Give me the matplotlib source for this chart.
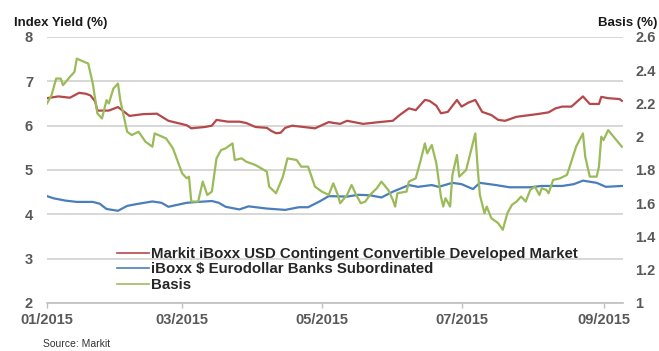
import matplotlib
matplotlib.use('Agg')
import matplotlib.pyplot as plt
import matplotlib.dates as mdates
import pandas as pd

plt.rcParams['font.family'] = ['Liberation Sans', 'DejaVu Sans']

# Markit iBoxx USD Contingent Convertible Developed Market (left axis, %)
coco_dates = ['2015-01-01', '2015-01-06', '2015-01-11', '2015-01-15', '2015-01-18', '2015-01-20',
              '2015-01-22', '2015-01-23', '2015-01-28', '2015-02-01', '2015-02-04', '2015-02-06',
              '2015-02-12', '2015-02-18', '2015-02-23', '2015-03-03', '2015-03-05', '2015-03-11',
              '2015-03-14', '2015-03-16', '2015-03-21', '2015-03-26', '2015-03-29', '2015-04-02',
              '2015-04-07', '2015-04-09', '2015-04-11', '2015-04-13', '2015-04-15', '2015-04-18',
              '2015-04-23', '2015-04-28', '2015-05-04', '2015-05-09', '2015-05-12', '2015-05-19',
              '2015-05-26', '2015-06-01', '2015-06-04', '2015-06-08', '2015-06-11', '2015-06-15',
              '2015-06-17', '2015-06-20', '2015-06-22', '2015-06-25', '2015-06-29', '2015-07-01',
              '2015-07-04', '2015-07-07', '2015-07-10', '2015-07-14', '2015-07-17', '2015-07-20',
              '2015-07-25', '2015-08-03', '2015-08-08', '2015-08-11', '2015-08-14', '2015-08-18',
              '2015-08-23', '2015-08-26', '2015-08-30', '2015-08-31', '2015-09-03', '2015-09-08',
              '2015-09-09']
coco_yield = [6.62, 6.66, 6.63, 6.74, 6.72, 6.68,
              6.55, 6.34, 6.34, 6.42, 6.30, 6.22,
              6.26, 6.27, 6.11, 6.01, 5.94, 5.97,
              6.00, 6.13, 6.09, 6.09, 6.06, 5.97,
              5.95, 5.88, 5.83, 5.84, 5.95, 6.00,
              5.97, 5.94, 6.08, 6.04, 6.11, 6.04,
              6.08, 6.11, 6.24, 6.39, 6.35, 6.58,
              6.56, 6.45, 6.28, 6.31, 6.58, 6.43,
              6.52, 6.58, 6.31, 6.24, 6.13, 6.11,
              6.20, 6.26, 6.30, 6.39, 6.43, 6.43,
              6.66, 6.49, 6.49, 6.65, 6.62, 6.60,
              6.56]

# iBoxx $ Eurodollar Banks Subordinated (left axis, %)
subs_dates = ['2015-01-01', '2015-01-04', '2015-01-09', '2015-01-14', '2015-01-21', '2015-01-24',
              '2015-01-27', '2015-02-01', '2015-02-05', '2015-02-09', '2015-02-16', '2015-02-20',
              '2015-02-23', '2015-03-03', '2015-03-08', '2015-03-14', '2015-03-17', '2015-03-20',
              '2015-03-26', '2015-03-30', '2015-04-07', '2015-04-15', '2015-04-21', '2015-04-25',
              '2015-04-30', '2015-05-04', '2015-05-12', '2015-05-17', '2015-05-22', '2015-05-27',
              '2015-06-01', '2015-06-08', '2015-06-12', '2015-06-18', '2015-06-21', '2015-06-27',
              '2015-07-01', '2015-07-06', '2015-07-09', '2015-07-16', '2015-07-22', '2015-07-31',
              '2015-08-05', '2015-08-14', '2015-08-19', '2015-08-23', '2015-08-29', '2015-09-02',
              '2015-09-09']
subs_yield = [4.41, 4.36, 4.31, 4.28, 4.28, 4.24,
              4.12, 4.08, 4.19, 4.23, 4.29, 4.26,
              4.17, 4.26, 4.28, 4.30, 4.26, 4.17,
              4.11, 4.18, 4.13, 4.10, 4.16, 4.16,
              4.29, 4.41, 4.40, 4.44, 4.43, 4.38,
              4.51, 4.66, 4.62, 4.66, 4.62, 4.71,
              4.68, 4.57, 4.71, 4.66, 4.61, 4.61,
              4.64, 4.64, 4.68, 4.76, 4.71, 4.62,
              4.64]

# Basis (right axis, %)
basis_dates = ['2015-01-01', '2015-01-03', '2015-01-05', '2015-01-07', '2015-01-08', '2015-01-11',
               '2015-01-13', '2015-01-14', '2015-01-19', '2015-01-21', '2015-01-23', '2015-01-25',
               '2015-01-27', '2015-01-28', '2015-01-30', '2015-02-01', '2015-02-02', '2015-02-05',
               '2015-02-07', '2015-02-10', '2015-02-13', '2015-02-16', '2015-02-17', '2015-02-22',
               '2015-02-25', '2015-03-01', '2015-03-03', '2015-03-04', '2015-03-05', '2015-03-08',
               '2015-03-10', '2015-03-12', '2015-03-14', '2015-03-16', '2015-03-18', '2015-03-20',
               '2015-03-23', '2015-03-24', '2015-03-27', '2015-03-29', '2015-04-02', '2015-04-07',
               '2015-04-08', '2015-04-11', '2015-04-14', '2015-04-16', '2015-04-20', '2015-04-22',
               '2015-04-25', '2015-04-28', '2015-05-01', '2015-05-04', '2015-05-06', '2015-05-08',
               '2015-05-09', '2015-05-12', '2015-05-14', '2015-05-16', '2015-05-18', '2015-05-20',
               '2015-05-22', '2015-05-25', '2015-05-27', '2015-05-30', '2015-06-01', '2015-06-02',
               '2015-06-03', '2015-06-07', '2015-06-08', '2015-06-11', '2015-06-13', '2015-06-15',
               '2015-06-16', '2015-06-18', '2015-06-20', '2015-06-21', '2015-06-22', '2015-06-23',
               '2015-06-24', '2015-06-26', '2015-06-27', '2015-06-29', '2015-06-30', '2015-07-03',
               '2015-07-07', '2015-07-08', '2015-07-09', '2015-07-11', '2015-07-12', '2015-07-14',
               '2015-07-17', '2015-07-19', '2015-07-21', '2015-07-23', '2015-07-25', '2015-07-27',
               '2015-07-29', '2015-07-31', '2015-08-02', '2015-08-04', '2015-08-05', '2015-08-07',
               '2015-08-08', '2015-08-10', '2015-08-13', '2015-08-16', '2015-08-17', '2015-08-20',
               '2015-08-23', '2015-08-24', '2015-08-26', '2015-08-29', '2015-08-30', '2015-08-31',
               '2015-09-01', '2015-09-03', '2015-09-06', '2015-09-09']
basis = [2.20, 2.25, 2.35, 2.35, 2.31, 2.36,
         2.39, 2.47, 2.44, 2.32, 2.14, 2.11,
         2.22, 2.20, 2.29, 2.32, 2.22, 2.03,
         2.01, 2.03, 1.97, 1.94, 2.02, 1.99,
         1.93, 1.78, 1.75, 1.76, 1.61, 1.61,
         1.73, 1.65, 1.67, 1.87, 1.92, 1.93,
         1.96, 1.86, 1.87, 1.85, 1.83, 1.79,
         1.70, 1.66, 1.76, 1.87, 1.86, 1.82,
         1.82, 1.70, 1.67, 1.65, 1.72, 1.65,
         1.60, 1.65, 1.71, 1.65, 1.60, 1.61,
         1.65, 1.69, 1.73, 1.68, 1.62, 1.58,
         1.66, 1.67, 1.73, 1.75, 1.85, 1.96,
         1.90, 1.95, 1.84, 1.74, 1.64, 1.58,
         1.63, 1.58, 1.77, 1.89, 1.76, 1.80,
         2.02, 1.82, 1.65, 1.54, 1.58, 1.51,
         1.48, 1.44, 1.54, 1.59, 1.61, 1.64,
         1.61, 1.68, 1.70, 1.65, 1.69, 1.68,
         1.66, 1.74, 1.75, 1.77, 1.81, 1.94,
         2.02, 1.88, 1.76, 1.76, 1.82, 2.00,
         1.98, 2.04, 1.99, 1.94]

series_names = ['Markit iBoxx USD Contingent Convertible Developed Market',
                'iBoxx $ Eurodollar Banks Subordinated',
                'Basis']
series_colors = ['#b5484b', '#4a7ebb', '#9bbb59']

fig = plt.figure(figsize=(6.59, 3.51), dpi=100)
ax = fig.add_axes([0.0713, 0.1368, 0.8741, 0.7578])
ax2 = ax.twinx()

ax.plot(pd.to_datetime(coco_dates), coco_yield, color=series_colors[0], lw=1.6)
ax.plot(pd.to_datetime(subs_dates), subs_yield, color=series_colors[1], lw=1.6)
ax2.plot(pd.to_datetime(basis_dates), basis, color=series_colors[2], lw=1.6)

ax.set_xlim(pd.Timestamp('2015-01-01'), pd.Timestamp('2015-09-09 12:00'))
ax.set_ylim(2, 8)
ax2.set_ylim(1, 2.6)
ax.set_yticks(range(2, 9))
ax2.set_yticks([1, 1.2, 1.4, 1.6, 1.8, 2, 2.2, 2.4, 2.6])
ax2.yaxis.set_major_formatter(plt.FuncFormatter(lambda v, p: '%g' % round(v, 1)))

ax.xaxis.set_major_locator(mdates.MonthLocator(bymonth=[1, 3, 5, 7, 9]))
ax.xaxis.set_major_formatter(mdates.DateFormatter('%m/%Y'))

for a in (ax, ax2):
    for s in a.spines.values():
        s.set_visible(False)
ax.spines['bottom'].set_visible(True)
ax.spines['bottom'].set_color('#bfbfbf')
ax.spines['bottom'].set_linewidth(1.2)

ax.grid(axis='y', color='#d4d4d4', lw=1.3)
ax.set_axisbelow(True)

tick_color = '#595959'
ax.tick_params(axis='y', length=0, pad=10, labelsize=10.5, labelcolor=tick_color)
ax2.tick_params(axis='y', length=0, pad=9, labelsize=10.5, labelcolor=tick_color)
ax.tick_params(axis='x', length=3.5, width=1, color='#bfbfbf', pad=4, labelsize=10.5,
               labelcolor=tick_color)
for lbl in ax.get_xticklabels() + ax.get_yticklabels() + ax2.get_yticklabels():
    lbl.set_fontweight('bold')

fig.text(14 / 659, 1 - 23 / 351, 'Index Yield (%)', fontsize=9.5, fontweight='bold',
         color='#1a1a1a', ha='left', va='center')
fig.text(657 / 659, 1 - 23 / 351, 'Basis (%)', fontsize=9.5, fontweight='bold',
         color='#1a1a1a', ha='right', va='center')
fig.text(43 / 659, 1 - 344 / 351, 'Source: Markit', fontsize=7.5, color='#333333',
         ha='left', va='center')

handles = ax.get_lines() + ax2.get_lines()
leg = ax2.legend(handles, series_names, loc='upper left', bbox_to_anchor=(117 / 659, 1 - 247 / 351),
                 bbox_transform=fig.transFigure, frameon=False,
                 prop={'weight': 'bold', 'size': 10.8}, handlelength=2.1, handletextpad=0.15,
                 labelspacing=0.1, borderpad=0, borderaxespad=0)
for h in leg.get_lines():
    h.set_linewidth(1.2)
for t in leg.get_texts():
    t.set_color('#262626')

fig.savefig('out.png', dpi=100)
